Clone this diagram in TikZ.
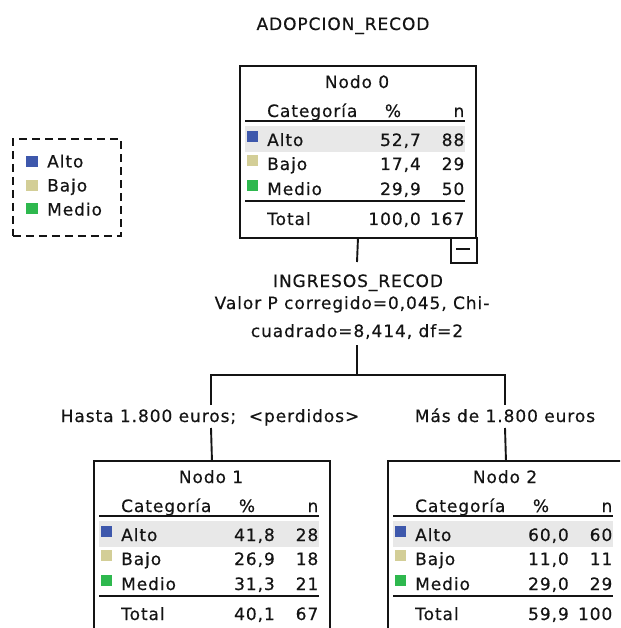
\documentclass[tikz,border=0pt]{standalone}
\usepackage{fontspec}
\setmainfont{DejaVu Sans}[LetterSpace=5.5, FakeBold=0.45]

\definecolor{catAlto}{HTML}{3E58AC}
\definecolor{catBajo}{HTML}{D3CE97}
\definecolor{catMedio}{HTML}{2EB84E}
\definecolor{rowHi}{HTML}{E8E8E8}
\definecolor{ink}{HTML}{141414}

\tikzset{
  txt/.style={inner sep=0pt, text=ink, font=\fontsize{17}{20}\selectfont},
  nodebox/.style={draw=ink, line width=1.9pt, anchor=north west, inner sep=0pt,
                  minimum width=236pt, minimum height=172pt},
  rule/.style={draw=ink, line width=2.1pt},
  link/.style={draw=ink, line width=1.9pt},
  foldbox/.style={draw=ink, line width=1.6pt, anchor=north west, inner sep=0pt,
                  minimum width=26pt, minimum height=25pt},
  legendbox/.style={draw=ink, line width=1.6pt, dash pattern=on 8pt off 5pt,
                    anchor=north west, inner sep=0pt,
                    minimum width=108pt, minimum height=97pt}
}

% frame of a tree node: box, title, column heads and the two rules
\newcommand\treebox[2]{%
  \fill[rowHi] (6,61) rectangle (226,87);
  \node[nodebox] (#1) at (0,0) {};
  \node[txt, anchor=base] (#1-title) at (118,23) {Nodo #2};
  \node[txt, anchor=base west] (#1-cat) at (28,52) {Categoría};
  \node[txt, anchor=base] (#1-pcth) at (154,52) {\%};
  \node[txt, anchor=base east] (#1-nh) at (225.5,52) {n};
  \draw[rule] (6,56) -- (226,56);
  \draw[rule] (6,136) -- (226,136);
}

% one category row: name prefix, baseline, colour, label, percent, count
\newcommand\statrow[6]{%
  \fill[#3] (8,#2-15) rectangle (19,#2-4);
  \node[txt, anchor=base west] (#1-lab) at (28,#2) {#4};
  \node[txt, anchor=base east] (#1-pct) at (182,#2) {#5};
  \node[txt, anchor=base east] (#1-n) at (225.5,#2) {#6};
}

% total row: name prefix, percent, count
\newcommand\totalrow[3]{%
  \node[txt, anchor=base west] (#1-lab) at (28,160) {Total};
  \node[txt, anchor=base east] (#1-pct) at (182,160) {#2};
  \node[txt, anchor=base east] (#1-n) at (225.5,160) {#3};
}

\begin{document}
\begin{tikzpicture}[x=1pt, y=-1pt]
  \clip (0,0) rectangle (620,628);
  \fill[white] (0,0) rectangle (620,628);

  % dependent variable
  \node[txt, anchor=base] (title) at (343,30) {ADOPCION\_RECOD};

  % legend
  \node[legendbox] (legend) at (12,138) {};
  \fill[catAlto]  (26,156) rectangle (37.5,167);
  \fill[catBajo]  (26,180) rectangle (37.5,191);
  \fill[catMedio] (26,203) rectangle (37.5,214);
  \node[txt, anchor=base west] (leg-alto)  at (47,167.5) {Alto};
  \node[txt, anchor=base west] (leg-bajo)  at (47,191.5) {Bajo};
  \node[txt, anchor=base west] (leg-medio) at (47,215.5) {Medio};

  % root node
  \begin{scope}[shift={(239,65)}]
    \treebox{n0}{0}
    \statrow{n0-alto}{81}{catAlto}{Alto}{52,7}{88}
    \statrow{n0-bajo}{105}{catBajo}{Bajo}{17,4}{29}
    \statrow{n0-medio}{130}{catMedio}{Medio}{29,9}{50}
    \totalrow{n0-tot}{100,0}{167}
    \node[foldbox] (n0-fold) at (211,172) {};
    \draw[ink, line width=1.6pt] (217,184) -- (231,184);
  \end{scope}

  % first split
  \node[txt, anchor=base] (s0a) at (358,287) {INGRESOS\_RECOD};
  \node[txt, anchor=base] (s0b) at (352,309) {Valor P corregido=0,045, Chi-};
  \node[txt, anchor=base] (s0c) at (357,337) {cuadrado=8,414, df=2};

  % branch labels
  \node[txt, anchor=base] (b1) at (210,422) {Hasta 1.800 euros;\ \ <perdidos>};
  \node[txt, anchor=base] (b2) at (505,422) {Más de 1.800 euros};

  % child nodes
  \begin{scope}[shift={(93,460)}]
    \treebox{n1}{1}
    \statrow{n1-alto}{81}{catAlto}{Alto}{41,8}{28}
    \statrow{n1-bajo}{105}{catBajo}{Bajo}{26,9}{18}
    \statrow{n1-medio}{130}{catMedio}{Medio}{31,3}{21}
    \totalrow{n1-tot}{40,1}{67}
  \end{scope}
  \begin{scope}[shift={(387,460)}]
    \treebox{n2}{2}
    \statrow{n2-alto}{81}{catAlto}{Alto}{60,0}{60}
    \statrow{n2-bajo}{105}{catBajo}{Bajo}{11,0}{11}
    \statrow{n2-medio}{130}{catMedio}{Medio}{29,0}{29}
    \totalrow{n2-tot}{59,9}{100}
  \end{scope}

  % connector end points around the labels
  \coordinate (s0in)  at (357,262);
  \coordinate (s0out) at (357,345);
  \coordinate (j0)    at (357,375);
  \coordinate (b1in)  at (211,405);
  \coordinate (b1out) at (211,428);
  \coordinate (b2in)  at (505,405);
  \coordinate (b2out) at (505,428);

  % connectors
  \draw[link] (n0.south) -- (s0in);
  \draw[link] (s0out) -- (j0);
  \draw[link] (b1in) |- (j0) -| (b2in);
  \draw[link] (b1out) -- (n1.north);
  \draw[link] (b2out) -- (n2.north);
\end{tikzpicture}
\end{document}
